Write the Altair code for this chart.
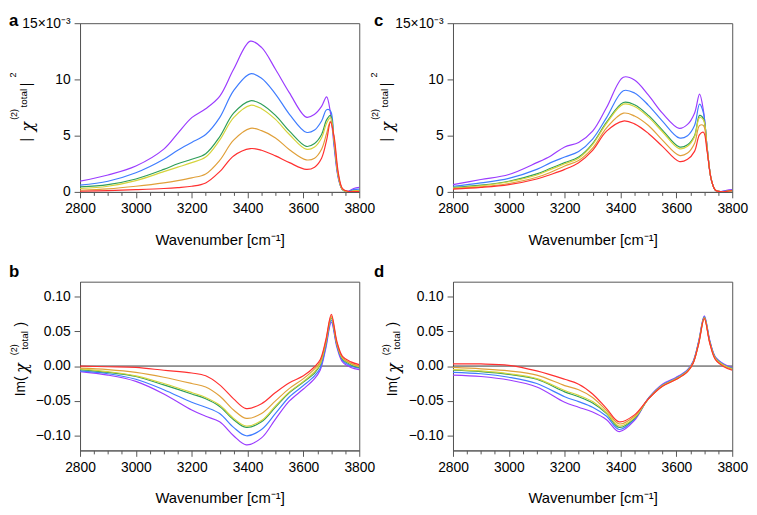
import altair as alt
import pandas as pd

FONT = "Liberation Sans"
DRAW_ORDER = ["purple", "blue", "green", "yellow", "orange", "red"]
COLORS = {"purple": "#9b3cff", "blue": "#3f7dff", "green": "#2f9e5a",
          "yellow": "#d6d43c", "orange": "#e0a03a", "red": "#ff3030"}

# ---------- panels a / c : |chi(2)total|^2  (units of 1e-3) ----------
X_TOP = [2800, 2900, 3000, 3100, 3150, 3200, 3250, 3300, 3350, 3410, 3450, 3500,
         3550, 3610, 3640, 3665, 3683, 3697, 3710, 3725, 3740, 3760, 3780, 3800]

A_PURPLE = [0.95, 1.5, 2.3, 3.8, 5.2, 6.6, 7.4, 8.5, 10.9, 13.4, 12.85, 10.9, 8.8, 6.65, 6.9, 7.6, 8.45, 7.0, 4.0, 1.2, 0.2, 0.05, 0.3, 0.4]
A_BLUE = [0.6, 0.95, 1.7, 2.9, 3.7, 4.4, 5.1, 6.6, 9.0, 10.5, 10.1, 8.7, 6.9, 5.3, 5.5, 6.3, 7.3, 7.2, 4.3, 1.3, 0.2, 0.03, 0.2, 0.25]
A_GREEN = [0.45, 0.65, 1.15, 2.0, 2.5, 2.9, 3.4, 4.9, 7.0, 8.1, 7.8, 6.8, 5.4, 4.05, 4.3, 5.1, 6.4, 6.8, 4.5, 1.4, 0.2, 0.02, 0.1, 0.1]
A_YELLOW = [0.3, 0.5, 1.0, 1.8, 2.2, 2.6, 3.1, 4.6, 6.6, 7.7, 7.4, 6.45, 5.1, 3.8, 4.0, 4.8, 6.1, 6.6, 4.5, 1.4, 0.2, 0.02, 0.1, 0.1]
A_ORANGE = [0.15, 0.27, 0.5, 0.8, 1.0, 1.25, 1.6, 2.8, 4.6, 5.65, 5.45, 4.8, 3.75, 2.85, 3.0, 3.8, 5.2, 6.3, 4.7, 1.5, 0.25, 0.03, 0.05, 0.05]
A_RED = [0.06, 0.12, 0.2, 0.3, 0.38, 0.5, 0.8, 1.8, 3.2, 3.85, 3.7, 3.2, 2.6, 2.0, 2.2, 3.0, 4.6, 6.2, 4.9, 1.7, 0.3, 0.05, 0.02, 0.02]

C_PURPLE = [0.65, 1.1, 1.55, 2.6, 3.2, 4.0, 4.4, 5.4, 7.5, 10.2, 9.95, 8.6, 7.0, 5.65, 6.0, 7.0, 8.7, 7.2, 4.0, 1.1, 0.15, 0.02, 0.15, 0.2]
C_BLUE = [0.5, 0.8, 1.2, 2.0, 2.6, 3.1, 3.6, 4.7, 6.6, 9.0, 8.8, 7.7, 6.3, 4.8, 5.0, 5.9, 7.8, 7.0, 4.0, 1.1, 0.15, 0.02, 0.1, 0.15]
C_GREEN = [0.4, 0.6, 0.95, 1.6, 2.1, 2.6, 3.1, 4.3, 6.2, 7.95, 7.75, 6.8, 5.5, 4.0, 4.2, 5.0, 6.8, 6.5, 3.9, 1.1, 0.15, 0.02, 0.05, 0.1]
C_YELLOW = [0.35, 0.55, 0.9, 1.5, 2.0, 2.5, 3.0, 4.2, 6.1, 7.8, 7.6, 6.65, 5.35, 3.85, 4.05, 4.9, 6.6, 6.4, 3.9, 1.1, 0.15, 0.02, 0.05, 0.1]
C_ORANGE = [0.3, 0.45, 0.75, 1.3, 1.75, 2.3, 2.8, 3.9, 5.7, 7.0, 6.75, 5.9, 4.6, 3.25, 3.45, 4.3, 5.9, 5.9, 3.8, 1.1, 0.15, 0.02, 0.05, 0.1]
C_RED = [0.25, 0.4, 0.65, 1.15, 1.55, 2.0, 2.6, 3.7, 5.4, 6.3, 6.05, 5.2, 4.05, 2.7, 2.9, 3.6, 5.1, 5.3, 3.6, 1.1, 0.15, 0.02, 0.05, 0.1]

# ---------- panels b / d : Im(chi(2)total) ----------
X_BOT = [2800, 2900, 3000, 3100, 3200, 3250, 3300, 3350, 3395, 3450, 3500,
         3550, 3600, 3640, 3660, 3680, 3700, 3720, 3740, 3770, 3800]

B_RED = [0.0, -0.001, -0.002, -0.006, -0.010, -0.014, -0.027, -0.047, -0.061, -0.054, -0.038, -0.024, -0.014, -0.001, 0.009, 0.037, 0.074, 0.035, 0.014, 0.006, 0.002]
B_ORANGE = [-0.003, -0.005, -0.009, -0.016, -0.025, -0.030, -0.043, -0.063, -0.075, -0.068, -0.050, -0.032, -0.018, -0.004, 0.006, 0.035, 0.072, 0.033, 0.012, 0.004, 0.0]
B_YELLOW = [-0.004, -0.008, -0.014, -0.025, -0.038, -0.045, -0.056, -0.075, -0.086, -0.078, -0.057, -0.037, -0.022, -0.008, 0.003, 0.033, 0.070, 0.032, 0.011, 0.003, -0.001]
B_GREEN = [-0.005, -0.009, -0.015, -0.027, -0.040, -0.047, -0.058, -0.077, -0.088, -0.080, -0.059, -0.038, -0.023, -0.010, 0.002, 0.032, 0.069, 0.031, 0.010, 0.002, -0.002]
B_BLUE = [-0.007, -0.011, -0.019, -0.034, -0.052, -0.059, -0.068, -0.088, -0.100, -0.091, -0.068, -0.044, -0.028, -0.014, -0.003, 0.028, 0.066, 0.029, 0.008, 0.0, -0.003]
B_PURPLE = [-0.008, -0.013, -0.022, -0.040, -0.063, -0.072, -0.080, -0.100, -0.113, -0.103, -0.076, -0.050, -0.033, -0.018, -0.006, 0.025, 0.063, 0.027, 0.006, -0.002, -0.005]

D_RED = [0.003, 0.003, 0.001, -0.007, -0.019, -0.026, -0.040, -0.061, -0.080, -0.070, -0.047, -0.029, -0.019, -0.008, 0.004, 0.032, 0.068, 0.032, 0.009, -0.001, -0.006]
D_ORANGE = [-0.002, -0.004, -0.007, -0.013, -0.028, -0.034, -0.045, -0.064, -0.083, -0.072, -0.047, -0.029, -0.019, -0.008, 0.004, 0.033, 0.069, 0.033, 0.010, 0.0, -0.005]
D_YELLOW = [-0.005, -0.007, -0.011, -0.018, -0.035, -0.042, -0.051, -0.067, -0.086, -0.074, -0.047, -0.028, -0.018, -0.007, 0.005, 0.033, 0.069, 0.033, 0.011, 0.001, -0.004]
D_GREEN = [-0.006, -0.008, -0.012, -0.019, -0.037, -0.044, -0.053, -0.068, -0.088, -0.075, -0.047, -0.028, -0.018, -0.007, 0.005, 0.034, 0.070, 0.034, 0.011, 0.001, -0.004]
D_BLUE = [-0.009, -0.011, -0.016, -0.025, -0.044, -0.051, -0.059, -0.072, -0.091, -0.076, -0.046, -0.027, -0.017, -0.006, 0.006, 0.035, 0.071, 0.035, 0.012, 0.002, -0.003]
D_PURPLE = [-0.013, -0.015, -0.020, -0.030, -0.052, -0.059, -0.066, -0.077, -0.094, -0.078, -0.046, -0.026, -0.016, -0.005, 0.007, 0.036, 0.072, 0.036, 0.013, 0.003, -0.002]

X_TICKS = list(range(2800, 3801, 50))
TOP_TICKS = [0, 5, 10, 15]
BOT_TICKS = [-0.1, -0.05, 0, 0.05, 0.1]

W, H = 283, 171
ONE = pd.DataFrame({"k": [0]})


def x_enc():
    return alt.X(
        "x:Q",
        scale=alt.Scale(domain=[2800, 3800], nice=False, zero=False),
        axis=alt.Axis(
            values=X_TICKS, format="d",
            labelExpr="datum.value % 200 === 0 ? datum.label : ''",
            tickSize={"condition": {"test": "datum.value % 200 === 0", "value": 6}, "value": 3.5},
            labelOverlap=False, labelFlush=False, labelPadding=4,
            title="Wavenumber [cm⁻¹]", titlePadding=17, grid=False,
        ),
    )


def y_enc(top):
    if top:
        return alt.Y(
            "y:Q",
            scale=alt.Scale(domain=[0, 15], nice=False, zero=False),
            axis=alt.Axis(values=TOP_TICKS, title=None, grid=False, tickSize=6, labelPadding=4,
                          labelExpr="datum.value === 15 ? '15×10⁻³' : datum.label"),
        )
    return alt.Y(
        "y:Q",
        scale=alt.Scale(domain=[-0.121, 0.121], nice=False, zero=False),
        axis=alt.Axis(values=BOT_TICKS, format=".2f", title=None, grid=False, tickSize=6, labelPadding=4),
    )


def txt(s, x, y, size, weight="normal", angle=270, align="center", baseline="middle",
        font=FONT, style="normal"):
    return alt.Chart(ONE).mark_text(
        text=s, angle=angle, font=font, fontSize=size, fontWeight=weight, fontStyle=style,
        align=align, baseline=baseline, color="black",
    ).encode(x=alt.value(x), y=alt.value(y))


def panel(xs, series, top, letter, letter_dx, letter_y, pieces):
    layers = []
    if not top:
        layers.append(
            alt.Chart(pd.DataFrame({"y": [0.0]})).mark_rule(color="#333", strokeWidth=1).encode(y=y_enc(top))
        )
    for name in DRAW_ORDER:
        df = pd.DataFrame({"x": xs, "y": series[name]})
        layers.append(
            alt.Chart(df).mark_line(color=COLORS[name], strokeWidth=1.2,
                                    interpolate="catmull-rom", clip=True)
            .encode(x=x_enc(), y=y_enc(top))
        )
    layers.append(txt(letter, letter_dx, letter_y, 17, weight="bold", angle=0, align="left",
                      baseline="top"))
    for p in pieces:
        layers.append(txt(*p))
    return alt.layer(*layers).properties(width=W, height=H)


def top_pieces(dx):
    # (text, x offset, y, fontSize, weight, angle, align, baseline, font, style)
    return [
        ("|", dx, 118, 14),
        ("χ", dx + 1, 105, 16, "normal", 270, "center", "middle", "DejaVu Serif", "italic"),
        ("(2)", dx - 13, 92.5, 9),
        ("total", dx - 2.5, 76, 10),
        ("|", dx, 62, 14),
        ("2", dx - 13.5, 52.5, 9),
    ]


def bot_pieces(dx):
    return [
        ("Im(", dx, 106, 14),
        ("χ", dx + 1, 87.5, 16, "normal", 270, "center", "middle", "DejaVu Serif", "italic"),
        ("(2)", dx - 7.5, 69, 9),
        ("total", dx + 3.5, 59.5, 10),
        (")", dx, 43, 14),
    ]


pa = panel(X_TOP, {"purple": A_PURPLE, "blue": A_BLUE, "green": A_GREEN, "yellow": A_YELLOW,
                   "orange": A_ORANGE, "red": A_RED}, True, "a", -72, -10, top_pieces(-54))
pc = panel(X_TOP, {"purple": C_PURPLE, "blue": C_BLUE, "green": C_GREEN, "yellow": C_YELLOW,
                   "orange": C_ORANGE, "red": C_RED}, True, "c", -80, -10, top_pieces(-66.5))
pb = panel(X_BOT, {"purple": B_PURPLE, "blue": B_BLUE, "green": B_GREEN, "yellow": B_YELLOW,
                   "orange": B_ORANGE, "red": B_RED}, False, "b", -72, -18, bot_pieces(-59.5))
pd_ = panel(X_BOT, {"purple": D_PURPLE, "blue": D_BLUE, "green": D_GREEN, "yellow": D_YELLOW,
                    "orange": D_ORANGE, "red": D_RED}, False, "d", -80, -18, bot_pieces(-60.5))

chart = alt.concat(
    pa, pc, pb, pd_, columns=2,
    spacing={"row": 91, "column": 95}, bounds="flush",
).properties(
    padding=0,
).configure_view(
    stroke="#555", strokeWidth=1,
).configure_axis(
    labelFont=FONT, titleFont=FONT, labelFontSize=14, titleFontSize=15,
    labelColor="#000", titleColor="#000", titleFontWeight="normal",
    domainColor="#555", tickColor="#555",
)

chart.save("out.html", embed_options={"renderer": "svg", "actions": False})
